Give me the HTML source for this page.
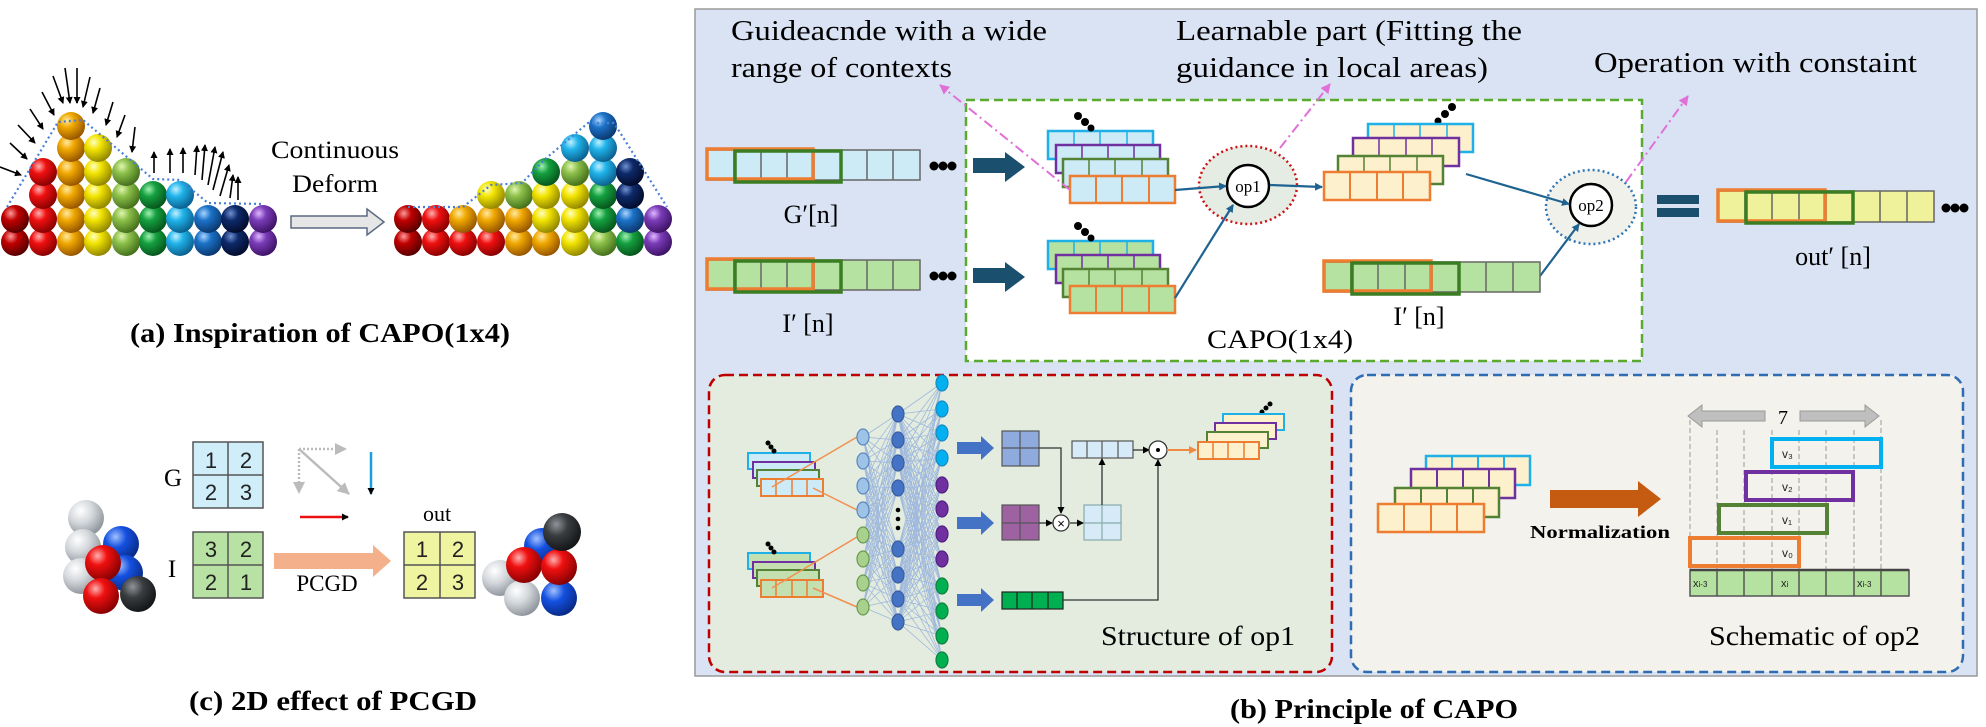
<!DOCTYPE html>
<html><head><meta charset="utf-8"><style>
html,body{margin:0;padding:0;background:#fff;}
svg{display:block;}
.s{font-family:"Liberation Serif",serif;}
.a{font-family:"Liberation Sans",sans-serif;}
</style></head><body>
<svg width="1986" height="727" viewBox="0 0 1986 727" xmlns="http://www.w3.org/2000/svg">
<defs>
<marker id="mt" markerWidth="8" markerHeight="8" refX="7" refY="4" orient="auto" markerUnits="userSpaceOnUse"><path d="M0 0L8 4L0 8z" fill="#1f6391"/></marker>
<marker id="mk" markerWidth="7" markerHeight="7" refX="6" refY="3.5" orient="auto" markerUnits="userSpaceOnUse"><path d="M0 0L7 3.5L0 7z" fill="#000"/></marker>
<marker id="mp" markerWidth="10" markerHeight="10" refX="9" refY="5" orient="auto" markerUnits="userSpaceOnUse"><path d="M0 0L10 5L0 10z" fill="#e070d8"/></marker>
<marker id="mg" markerWidth="12" markerHeight="12" refX="11" refY="6" orient="auto" markerUnits="userSpaceOnUse"><path d="M0 0L12 6L0 12z" fill="#bbb"/></marker>
<marker id="mo" markerWidth="8" markerHeight="8" refX="7" refY="4" orient="auto" markerUnits="userSpaceOnUse"><path d="M0 0L8 4L0 8z" fill="#f08a40"/></marker>
<radialGradient id="dr" cx=".35" cy=".3" r=".75"><stop offset="0" stop-color="#ff9a9a"/><stop offset=".35" stop-color="#c00000"/><stop offset="1" stop-color="#500000"/></radialGradient>
<radialGradient id="r" cx=".35" cy=".3" r=".75"><stop offset="0" stop-color="#ffb0b0"/><stop offset=".35" stop-color="#f01010"/><stop offset="1" stop-color="#800000"/></radialGradient>
<radialGradient id="o" cx=".35" cy=".3" r=".75"><stop offset="0" stop-color="#ffe9a0"/><stop offset=".35" stop-color="#f0a800"/><stop offset="1" stop-color="#905000"/></radialGradient>
<radialGradient id="y" cx=".35" cy=".3" r=".75"><stop offset="0" stop-color="#ffffc0"/><stop offset=".35" stop-color="#f2e400"/><stop offset="1" stop-color="#8a8000"/></radialGradient>
<radialGradient id="lg" cx=".35" cy=".3" r=".75"><stop offset="0" stop-color="#e0f5b0"/><stop offset=".35" stop-color="#8cc04a"/><stop offset="1" stop-color="#3f6a18"/></radialGradient>
<radialGradient id="g" cx=".35" cy=".3" r=".75"><stop offset="0" stop-color="#a0f0b0"/><stop offset=".35" stop-color="#15a040"/><stop offset="1" stop-color="#05501a"/></radialGradient>
<radialGradient id="c" cx=".35" cy=".3" r=".75"><stop offset="0" stop-color="#c0f0ff"/><stop offset=".35" stop-color="#20b4ea"/><stop offset="1" stop-color="#0a5a88"/></radialGradient>
<radialGradient id="b" cx=".35" cy=".3" r=".75"><stop offset="0" stop-color="#a8d4ff"/><stop offset=".35" stop-color="#1b72c8"/><stop offset="1" stop-color="#0a3468"/></radialGradient>
<radialGradient id="n" cx=".35" cy=".3" r=".75"><stop offset="0" stop-color="#7090d0"/><stop offset=".35" stop-color="#0e2a6a"/><stop offset="1" stop-color="#020a28"/></radialGradient>
<radialGradient id="p" cx=".35" cy=".3" r=".75"><stop offset="0" stop-color="#e0b8ff"/><stop offset=".35" stop-color="#7a3cb8"/><stop offset="1" stop-color="#3a1060"/></radialGradient>
<radialGradient id="w" cx=".35" cy=".3" r=".75"><stop offset="0" stop-color="#ffffff"/><stop offset=".45" stop-color="#d4d8dc"/><stop offset="1" stop-color="#8a9098"/></radialGradient>
<radialGradient id="k" cx=".35" cy=".3" r=".75"><stop offset="0" stop-color="#909498"/><stop offset=".4" stop-color="#3a3d40"/><stop offset="1" stop-color="#101214"/></radialGradient>
<radialGradient id="bl" cx=".35" cy=".3" r=".75"><stop offset="0" stop-color="#a0c0ff"/><stop offset=".4" stop-color="#1450e0"/><stop offset="1" stop-color="#082880"/></radialGradient>
</defs>

<!-- ============ (a) left ball piles ============ -->
<g>
<circle cx="15" cy="242" r="14" fill="url(#dr)"/><circle cx="15" cy="219" r="14" fill="url(#dr)"/>
<circle cx="43" cy="242" r="14" fill="url(#r)"/><circle cx="43" cy="219" r="14" fill="url(#r)"/><circle cx="43" cy="195" r="14" fill="url(#r)"/><circle cx="43" cy="172" r="14" fill="url(#r)"/>
<circle cx="71" cy="242" r="14" fill="url(#o)"/><circle cx="71" cy="219" r="14" fill="url(#o)"/><circle cx="71" cy="195" r="14" fill="url(#o)"/><circle cx="71" cy="172" r="14" fill="url(#o)"/><circle cx="71" cy="148" r="14" fill="url(#o)"/><circle cx="71" cy="126" r="14" fill="url(#o)"/>
<circle cx="98" cy="242" r="14" fill="url(#y)"/><circle cx="98" cy="219" r="14" fill="url(#y)"/><circle cx="98" cy="195" r="14" fill="url(#y)"/><circle cx="98" cy="172" r="14" fill="url(#y)"/><circle cx="98" cy="148" r="14" fill="url(#y)"/>
<circle cx="126" cy="242" r="14" fill="url(#lg)"/><circle cx="126" cy="219" r="14" fill="url(#lg)"/><circle cx="126" cy="195" r="14" fill="url(#lg)"/><circle cx="126" cy="172" r="14" fill="url(#lg)"/>
<circle cx="153" cy="242" r="14" fill="url(#g)"/><circle cx="153" cy="219" r="14" fill="url(#g)"/><circle cx="153" cy="195" r="14" fill="url(#g)"/>
<circle cx="180" cy="242" r="14" fill="url(#c)"/><circle cx="180" cy="219" r="14" fill="url(#c)"/><circle cx="180" cy="195" r="14" fill="url(#c)"/>
<circle cx="208" cy="242" r="14" fill="url(#b)"/><circle cx="208" cy="219" r="14" fill="url(#b)"/>
<circle cx="235" cy="242" r="14" fill="url(#n)"/><circle cx="235" cy="219" r="14" fill="url(#n)"/>
<circle cx="263" cy="242" r="14" fill="url(#p)"/><circle cx="263" cy="219" r="14" fill="url(#p)"/>
</g>
<polyline points="7,207 58,122 83,120 153,179 180,180 208,203 263,204" fill="none" stroke="#4a7fd8" stroke-width="2.2" stroke-dasharray="2 3"/>
<g stroke="#000" stroke-width="1.6" marker-end="url(#mk)">
<line x1="0" y1="167" x2="21" y2="175"/><line x1="10" y1="143" x2="27" y2="159"/><line x1="18" y1="125" x2="35" y2="143"/>
<line x1="30" y1="109" x2="43" y2="129"/><line x1="42" y1="92" x2="54" y2="115"/><line x1="53" y1="76" x2="63" y2="103"/>
<line x1="65" y1="68" x2="70" y2="103"/><line x1="77" y1="68" x2="77" y2="103"/><line x1="90" y1="77" x2="83" y2="107"/>
<line x1="100" y1="88" x2="93" y2="113"/><line x1="113" y1="102" x2="106" y2="125"/><line x1="125" y1="115" x2="117" y2="137"/>
<line x1="135" y1="127" x2="132" y2="152"/>
<line x1="154" y1="173" x2="154" y2="152"/><line x1="170" y1="173" x2="170" y2="149"/><line x1="183" y1="173" x2="183" y2="148"/>
<line x1="195" y1="175" x2="197" y2="146"/><line x1="202" y1="180" x2="205" y2="145"/><line x1="208" y1="185" x2="215" y2="147"/>
<line x1="213" y1="190" x2="223" y2="152"/><line x1="220" y1="196" x2="229" y2="165"/><line x1="230" y1="198" x2="233" y2="175"/>
<line x1="238" y1="200" x2="238" y2="177"/>
</g>
<text class="s" x="335" y="158" font-size="25" text-anchor="middle" textLength="128" lengthAdjust="spacingAndGlyphs">Continuous</text>
<text class="s" x="335" y="192" font-size="25" text-anchor="middle" textLength="86" lengthAdjust="spacingAndGlyphs">Deform</text>
<path d="M291 216H367V209L384 222L367 235V228H291Z" fill="#e6e6e6" stroke="#5a6a80" stroke-width="1.5"/>
<g>
<circle cx="408" cy="242" r="14" fill="url(#dr)"/><circle cx="408" cy="219" r="14" fill="url(#dr)"/>
<circle cx="436" cy="242" r="14" fill="url(#r)"/><circle cx="436" cy="219" r="14" fill="url(#r)"/>
<circle cx="463" cy="242" r="14" fill="url(#r)"/><circle cx="463" cy="219" r="14" fill="url(#o)"/>
<circle cx="491" cy="242" r="14" fill="url(#r)"/><circle cx="491" cy="219" r="14" fill="url(#o)"/><circle cx="491" cy="195" r="14" fill="url(#y)"/>
<circle cx="519" cy="242" r="14" fill="url(#o)"/><circle cx="519" cy="219" r="14" fill="url(#o)"/><circle cx="519" cy="195" r="14" fill="url(#lg)"/>
<circle cx="546" cy="242" r="14" fill="url(#o)"/><circle cx="546" cy="219" r="14" fill="url(#y)"/><circle cx="546" cy="195" r="14" fill="url(#y)"/><circle cx="546" cy="172" r="14" fill="url(#g)"/>
<circle cx="575" cy="242" r="14" fill="url(#y)"/><circle cx="575" cy="219" r="14" fill="url(#y)"/><circle cx="575" cy="195" r="14" fill="url(#y)"/><circle cx="575" cy="172" r="14" fill="url(#lg)"/><circle cx="575" cy="148" r="14" fill="url(#c)"/>
<circle cx="603" cy="242" r="14" fill="url(#lg)"/><circle cx="603" cy="219" r="14" fill="url(#g)"/><circle cx="603" cy="195" r="14" fill="url(#g)"/><circle cx="603" cy="172" r="14" fill="url(#c)"/><circle cx="603" cy="148" r="14" fill="url(#c)"/><circle cx="603" cy="126" r="14" fill="url(#b)"/>
<circle cx="630" cy="242" r="14" fill="url(#g)"/><circle cx="630" cy="219" r="14" fill="url(#b)"/><circle cx="630" cy="195" r="14" fill="url(#n)"/><circle cx="630" cy="172" r="14" fill="url(#n)"/>
<circle cx="658" cy="242" r="14" fill="url(#p)"/><circle cx="658" cy="219" r="14" fill="url(#p)"/>
</g>
<polyline points="408,207 463,207 491,185 522,183 544,160 588,123 614,123 667,207" fill="none" stroke="#4a7fd8" stroke-width="2.2" stroke-dasharray="2 3"/>
<text class="s" x="320" y="342" font-size="27" font-weight="bold" text-anchor="middle" textLength="380" lengthAdjust="spacingAndGlyphs">(a) Inspiration of CAPO(1x4)</text>

<!-- ============ (c) ============ -->
<text class="s" x="173" y="486" font-size="25" text-anchor="middle">G</text>
<text class="s" x="172" y="577" font-size="25" text-anchor="middle">I</text>
<g stroke="#555" stroke-width="1.5">
<rect x="193" y="442" width="70" height="66" fill="#cfeefa"/><path d="M228 442V508M193 475H263"/>
<rect x="193" y="532" width="70" height="66" fill="#b7e2a3"/><path d="M228 532V598M193 565H263"/>
<rect x="404" y="532" width="71" height="66" fill="#eef4a0"/><path d="M440 532V598M404 565H475"/>
</g>
<g class="a" font-size="22" fill="#222" text-anchor="middle">
<text x="211" y="468">1</text><text x="246" y="468">2</text><text x="211" y="500">2</text><text x="246" y="500">3</text>
<text x="211" y="557">3</text><text x="246" y="557">2</text><text x="211" y="590">2</text><text x="246" y="590">1</text>
<text x="422" y="557">1</text><text x="458" y="557">2</text><text x="422" y="590">2</text><text x="458" y="590">3</text>
</g>
<text class="s" x="437" y="521" font-size="22" text-anchor="middle">out</text>
<g stroke="#bbb" stroke-width="2.5">
<line x1="299" y1="449" x2="346" y2="449" stroke-dasharray="2 2" marker-end="url(#mg)"/>
<line x1="299" y1="449" x2="299" y2="493" stroke-dasharray="2 2" marker-end="url(#mg)"/>
<line x1="299" y1="449" x2="349" y2="494" marker-end="url(#mg)"/>
</g>
<line x1="371" y1="452" x2="371" y2="494" stroke="#1aa0e0" stroke-width="2.5" marker-end="url(#mk)"/>
<line x1="300" y1="517" x2="348" y2="517" stroke="#e81010" stroke-width="2.5" marker-end="url(#mk)"/>
<path d="M274 553H373V545L391 561L373 577V569H274Z" fill="#f4b08a"/>
<text class="s" x="327" y="591" font-size="23" text-anchor="middle">PCGD</text>
<g>
<circle cx="86" cy="518" r="18" fill="url(#w)"/><circle cx="121" cy="544" r="18" fill="url(#bl)"/><circle cx="83" cy="547" r="18" fill="url(#w)"/>
<circle cx="125" cy="573" r="18" fill="url(#bl)"/><circle cx="81" cy="576" r="18" fill="url(#w)"/><circle cx="103" cy="563" r="18" fill="url(#r)"/>
<circle cx="138" cy="594" r="18" fill="url(#k)"/><circle cx="101" cy="596" r="18" fill="url(#r)"/>
<circle cx="542" cy="546" r="18" fill="url(#bl)"/><circle cx="500" cy="578" r="18" fill="url(#w)"/><circle cx="559" cy="598" r="18" fill="url(#bl)"/>
<circle cx="522" cy="598" r="18" fill="url(#w)"/><circle cx="524" cy="565" r="18" fill="url(#r)"/><circle cx="559" cy="567" r="18" fill="url(#r)"/>
<circle cx="562" cy="532" r="19" fill="url(#k)"/>
</g>
<text class="s" x="333" y="710" font-size="27" font-weight="bold" text-anchor="middle" textLength="288" lengthAdjust="spacingAndGlyphs">(c) 2D effect of PCGD</text>

<!-- ============ (b) right panel ============ -->
<rect x="695" y="9" width="1282" height="667" fill="#dae3f3" stroke="#999" stroke-width="1.5"/>
<text class="s" x="731" y="40" font-size="28" textLength="316" lengthAdjust="spacingAndGlyphs">Guideacnde with a wide</text>
<text class="s" x="731" y="77" font-size="28" textLength="221" lengthAdjust="spacingAndGlyphs">range of contexts</text>
<text class="s" x="1176" y="40" font-size="28" textLength="346" lengthAdjust="spacingAndGlyphs">Learnable part (Fitting the</text>
<text class="s" x="1176" y="77" font-size="28" textLength="312" lengthAdjust="spacingAndGlyphs">guidance in local areas)</text>
<text class="s" x="1594" y="72" font-size="28" textLength="323" lengthAdjust="spacingAndGlyphs">Operation with constaint</text>

<rect x="966" y="100" width="676" height="261" fill="#fff" stroke="#5aaa30" stroke-width="2.5" stroke-dasharray="9 5"/>

<!-- G' strip -->
<g stroke-width="1.5">
<rect x="707" y="150" width="213" height="30" fill="#cdeaf7" stroke="#666"/>
<path d="M734 150v30M761 150v30M787 150v30M814 150v30M841 150v30M867 150v30M893 150v30" stroke="#666"/>
<rect x="707" y="149" width="106" height="30" fill="none" stroke="#ed7d31" stroke-width="3.5"/>
<rect x="735" y="151" width="106" height="31" fill="none" stroke="#3a7d22" stroke-width="3.5"/>
<rect x="707" y="260" width="213" height="30" fill="#b5e2a0" stroke="#666"/>
<path d="M734 260v30M761 260v30M787 260v30M814 260v30M841 260v30M867 260v30M893 260v30" stroke="#666"/>
<rect x="707" y="259" width="106" height="30" fill="none" stroke="#ed7d31" stroke-width="3.5"/>
<rect x="735" y="261" width="106" height="31" fill="none" stroke="#3a7d22" stroke-width="3.5"/>
</g>
<g fill="#000"><circle cx="934" cy="166" r="4.5"/><circle cx="943" cy="166" r="4.5"/><circle cx="952" cy="166" r="4.5"/>
<circle cx="934" cy="276" r="4.5"/><circle cx="943" cy="276" r="4.5"/><circle cx="952" cy="276" r="4.5"/>
<circle cx="1946" cy="208" r="4.5"/><circle cx="1955" cy="208" r="4.5"/><circle cx="1964" cy="208" r="4.5"/></g>
<text class="s" x="811" y="223" font-size="26" text-anchor="middle">G′[n]</text>
<text class="s" x="808" y="332" font-size="26" text-anchor="middle">I′ [n]</text>
<path d="M973 158H1005V152L1025 167L1005 182V173H973Z" fill="#1b4f6e"/>
<path d="M973 268H1005V262L1025 277L1005 292V283H973Z" fill="#1b4f6e"/>

<!-- G stack -->
<g stroke-width="2.5" fill="#cdeaf7">
<rect x="1048" y="131" width="105" height="28" stroke="#1fb0e8"/><path d="M1074 131v28M1100 131v28M1127 131v28" stroke="#1fb0e8" stroke-width="1.5"/>
<rect x="1056" y="145" width="104" height="28" stroke="#7030a0"/><path d="M1082 145v28M1108 145v28M1134 145v28" stroke="#7030a0" stroke-width="1.5"/>
<rect x="1063" y="159" width="105" height="28" stroke="#548235"/><path d="M1089 159v28M1115 159v28M1142 159v28" stroke="#548235" stroke-width="1.5"/>
<rect x="1070" y="176" width="105" height="27" stroke="#ed7d31"/><path d="M1096 176v27M1122 176v27M1149 176v27" stroke="#ed7d31" stroke-width="2"/>
</g>
<g stroke-width="2.5" fill="#b5e2a0">
<rect x="1048" y="241" width="105" height="28" stroke="#1fb0e8"/><path d="M1074 241v28M1100 241v28M1127 241v28" stroke="#1fb0e8" stroke-width="1.5"/>
<rect x="1056" y="255" width="104" height="28" stroke="#7030a0"/><path d="M1082 255v28M1108 255v28M1134 255v28" stroke="#7030a0" stroke-width="1.5"/>
<rect x="1063" y="269" width="105" height="28" stroke="#548235"/><path d="M1089 269v28M1115 269v28M1142 269v28" stroke="#548235" stroke-width="1.5"/>
<rect x="1070" y="286" width="105" height="27" stroke="#ed7d31"/><path d="M1096 286v27M1122 286v27M1149 286v27" stroke="#ed7d31" stroke-width="2"/>
</g>
<g fill="#000"><circle cx="1078" cy="116" r="4"/><circle cx="1085" cy="122" r="4"/><circle cx="1091" cy="128" r="3.5"/>
<circle cx="1078" cy="226" r="4"/><circle cx="1085" cy="232" r="4"/><circle cx="1091" cy="238" r="3.5"/>
<circle cx="1438" cy="121" r="3.5"/><circle cx="1445" cy="114" r="4"/><circle cx="1452" cy="107" r="4"/></g>

<!-- yellow stack -->
<g stroke-width="2.5" fill="#fdf0cc">
<rect x="1368" y="124" width="105" height="28" stroke="#1fb0e8"/><path d="M1394 124v28M1420 124v28M1447 124v28" stroke="#1fb0e8" stroke-width="1.5"/>
<rect x="1353" y="138" width="106" height="28" stroke="#7030a0"/><path d="M1379 138v28M1406 138v28M1432 138v28" stroke="#7030a0" stroke-width="1.5"/>
<rect x="1338" y="156" width="105" height="28" stroke="#548235"/><path d="M1364 156v28M1390 156v28M1417 156v28" stroke="#548235" stroke-width="1.5"/>
<rect x="1324" y="172" width="106" height="28" stroke="#ed7d31"/><path d="M1350 172v28M1377 172v28M1403 172v28" stroke="#ed7d31" stroke-width="2"/>
</g>

<!-- op1 / op2 -->
<ellipse cx="1248" cy="185" rx="49" ry="39" fill="#e4ece4" stroke="#d01010" stroke-width="2.5" stroke-dasharray="2 3"/>
<circle cx="1248" cy="186" r="21" fill="#fff" stroke="#000" stroke-width="2.5"/>
<text class="s" x="1248" y="192" font-size="17" text-anchor="middle">op1</text>
<ellipse cx="1591" cy="207" rx="45" ry="37" fill="#f1f1ec" stroke="#2e75b6" stroke-width="2.5" stroke-dasharray="2 3"/>
<circle cx="1591" cy="205" r="21" fill="#fff" stroke="#000" stroke-width="2.5"/>
<text class="s" x="1591" y="211" font-size="17" text-anchor="middle">op2</text>
<g stroke="#1f6391" stroke-width="2.2" fill="none" marker-end="url(#mt)">
<line x1="1175" y1="190" x2="1226" y2="186"/>
<line x1="1175" y1="298" x2="1233" y2="205"/>
<line x1="1270" y1="185" x2="1322" y2="187"/>
<line x1="1466" y1="174" x2="1569" y2="204"/>
<line x1="1540" y1="276" x2="1579" y2="224"/>
</g>
<!-- inner I' strip -->
<g stroke-width="1.5">
<rect x="1324" y="262" width="216" height="30" fill="#b5e2a0" stroke="#666"/>
<path d="M1351 262v30M1378 262v30M1405 262v30M1432 262v30M1459 262v30M1486 262v30M1513 262v30" stroke="#666"/>
<rect x="1324" y="261" width="107" height="30" fill="none" stroke="#ed7d31" stroke-width="3.5"/>
<rect x="1352" y="263" width="107" height="31" fill="none" stroke="#3a7d22" stroke-width="3.5"/>
</g>
<text class="s" x="1419" y="325" font-size="26" text-anchor="middle">I′ [n]</text>
<text class="s" x="1280" y="348" font-size="26" text-anchor="middle" textLength="146" lengthAdjust="spacingAndGlyphs">CAPO(1x4)</text>
<!-- = and out -->
<rect x="1657" y="195" width="42" height="9" fill="#1b4f6e"/><rect x="1657" y="208" width="42" height="9" fill="#1b4f6e"/>
<g stroke-width="1.5">
<rect x="1718" y="191" width="216" height="31" fill="#eff29a" stroke="#666"/>
<path d="M1745 191v31M1772 191v31M1799 191v31M1826 191v31M1853 191v31M1880 191v31M1907 191v31" stroke="#666"/>
<rect x="1718" y="190" width="107" height="31" fill="none" stroke="#ed7d31" stroke-width="3.5"/>
<rect x="1746" y="192" width="107" height="31" fill="none" stroke="#3a7d22" stroke-width="3.5"/>
</g>
<text class="s" x="1833" y="265" font-size="26" text-anchor="middle">out′ [n]</text>

<!-- pink dash-dot -->
<g stroke="#e070d8" stroke-width="2" stroke-dasharray="10 4 2 4" fill="none" marker-end="url(#mp)">
<line x1="1070" y1="190" x2="940" y2="85"/>
<line x1="1280" y1="148" x2="1330" y2="84"/>
<line x1="1626" y1="182" x2="1688" y2="96"/>
</g>

<!-- bottom panels -->
<rect x="709" y="375" width="623" height="297" rx="16" fill="#e3ecdf" stroke="#c00000" stroke-width="2.5" stroke-dasharray="9 5"/>
<rect x="1351" y="375" width="612" height="297" rx="16" fill="#f3f2ec" stroke="#2e6db4" stroke-width="2.5" stroke-dasharray="9 5"/>

<g id="mesh" stroke="#6a8fd8" stroke-width="0.8" opacity="0.55"></g>

<!-- small stacks op1 -->
<g stroke-width="2" fill="#cdeaf7">
<rect x="748" y="453" width="62" height="16" stroke="#1fb0e8"/><rect x="753" y="462" width="62" height="16" stroke="#7030a0"/>
<rect x="757" y="470" width="62" height="16" stroke="#548235"/><rect x="761" y="479" width="62" height="17" stroke="#ed7d31"/>
<path d="M776 479v17M792 479v17M807 479v17" stroke="#ed7d31" stroke-width="1.5"/>
</g>
<g stroke-width="2" fill="#c5e0b0">
<rect x="748" y="553" width="62" height="16" stroke="#1fb0e8"/><rect x="753" y="562" width="62" height="16" stroke="#7030a0"/>
<rect x="757" y="570" width="62" height="16" stroke="#548235"/><rect x="761" y="580" width="62" height="17" stroke="#ed7d31"/>
<path d="M776 580v17M792 580v17M807 580v17" stroke="#ed7d31" stroke-width="1.5"/>
</g>
<g fill="#000"><circle cx="768" cy="443" r="2.5"/><circle cx="771" cy="447" r="2.5"/><circle cx="774" cy="451" r="2.5"/>
<circle cx="768" cy="544" r="2.5"/><circle cx="771" cy="548" r="2.5"/><circle cx="774" cy="552" r="2.5"/>
<circle cx="1262" cy="412" r="2.5"/><circle cx="1266" cy="408" r="2.5"/><circle cx="1270" cy="404" r="2.5"/></g>
<g stroke="#f09050" stroke-width="1.5">
<line x1="772" y1="487" x2="857" y2="437"/><line x1="813" y1="488" x2="857" y2="510"/>
<line x1="772" y1="588" x2="857" y2="537"/><line x1="813" y1="588" x2="857" y2="607"/>
</g>
<!-- nodes -->
<g stroke-width="1.2">
<g fill="#9dc3e6" stroke="#5b86c0"><ellipse cx="863" cy="437" rx="6" ry="8"/><ellipse cx="863" cy="461" rx="6" ry="8"/><ellipse cx="863" cy="486" rx="6" ry="8"/><ellipse cx="863" cy="510" rx="6" ry="8"/></g>
<g fill="#a9d18e" stroke="#6a9a50"><ellipse cx="863" cy="535" rx="6" ry="8"/><ellipse cx="863" cy="559" rx="6" ry="8"/><ellipse cx="863" cy="583" rx="6" ry="8"/><ellipse cx="863" cy="607" rx="6" ry="8"/></g>
<g fill="#4472c4" stroke="#3a5ea0"><ellipse cx="898" cy="414" rx="6" ry="8"/><ellipse cx="898" cy="440" rx="6" ry="8"/><ellipse cx="898" cy="463" rx="6" ry="8"/><ellipse cx="898" cy="488" rx="6" ry="8"/>
<ellipse cx="898" cy="549" rx="6" ry="8"/><ellipse cx="898" cy="575" rx="6" ry="8"/><ellipse cx="898" cy="599" rx="6" ry="8"/><ellipse cx="898" cy="622" rx="6" ry="8"/></g>
<g fill="#00b0f0" stroke="#1a8ac0"><ellipse cx="942" cy="383" rx="6" ry="8"/><ellipse cx="942" cy="409" rx="6" ry="8"/><ellipse cx="942" cy="433" rx="6" ry="8"/><ellipse cx="942" cy="458" rx="6" ry="8"/></g>
<g fill="#7030a0" stroke="#502080"><ellipse cx="942" cy="485" rx="6" ry="8"/><ellipse cx="942" cy="509" rx="6" ry="8"/><ellipse cx="942" cy="534" rx="6" ry="8"/><ellipse cx="942" cy="559" rx="6" ry="8"/></g>
<g fill="#00b050" stroke="#108040"><ellipse cx="942" cy="586" rx="6" ry="8"/><ellipse cx="942" cy="611" rx="6" ry="8"/><ellipse cx="942" cy="636" rx="6" ry="8"/><ellipse cx="942" cy="660" rx="6" ry="8"/></g>
</g>
<g fill="#000"><circle cx="898" cy="510" r="2.3"/><circle cx="898" cy="519" r="2.3"/><circle cx="898" cy="528" r="2.3"/></g>
<g fill="#4472c4">
<path d="M957 442H981V436L994 448L981 460V454H957Z"/>
<path d="M957 517H981V511L994 523L981 535V529H957Z"/>
<path d="M957 594H981V588L994 600L981 612V606H957Z"/>
</g>
<g stroke="#555" stroke-width="1.2">
<rect x="1002" y="431" width="37" height="35" fill="#8faadc"/><path d="M1020 431v35M1002 448h37"/>
<rect x="1002" y="505" width="37" height="35" fill="#9e62a2"/><path d="M1020 505v35M1002 523h37"/>
<rect x="1002" y="592" width="61" height="17" fill="#00b050" stroke="#222"/><path d="M1017 592v17M1032 592v17M1048 592v17" stroke="#222"/>
<rect x="1072" y="441" width="61" height="17" fill="#d6ebf7"/><path d="M1087 441v17M1102 441v17M1118 441v17"/>
<rect x="1084" y="505" width="37" height="35" fill="#d6ebf7" stroke="#8aa"/><path d="M1102 505v35M1084 523h37" stroke="#8aa"/>
</g>
<g stroke="#333" stroke-width="1.3" fill="none">
<path d="M1039 448H1061V513" marker-end="url(#mk)"/>
<line x1="1039" y1="523" x2="1052" y2="523" marker-end="url(#mk)"/>
<line x1="1070" y1="523" x2="1083" y2="523" marker-end="url(#mk)"/>
<line x1="1102" y1="505" x2="1102" y2="459" marker-end="url(#mk)"/>
<line x1="1133" y1="450" x2="1149" y2="450" marker-end="url(#mk)"/>
<path d="M1063 600H1158V460" marker-end="url(#mk)"/>
</g>
<circle cx="1061" cy="523" r="8" fill="#fff" stroke="#333" stroke-width="1.3"/>
<text class="a" x="1061" y="528" font-size="13" text-anchor="middle">×</text>
<circle cx="1158" cy="450" r="9" fill="#fff" stroke="#333" stroke-width="1.3"/>
<circle cx="1158" cy="450" r="2" fill="#000"/>
<line x1="1167" y1="450" x2="1196" y2="450" stroke="#f08a40" stroke-width="2" marker-end="url(#mo)"/>
<g stroke-width="2" fill="#fdf0cc">
<rect x="1223" y="414" width="61" height="16" stroke="#1fb0e8"/><rect x="1215" y="423" width="61" height="16" stroke="#7030a0"/>
<rect x="1207" y="432" width="61" height="16" stroke="#548235"/><rect x="1198" y="442" width="61" height="17" stroke="#ed7d31"/>
<path d="M1213 442v17M1228 442v17M1244 442v17" stroke="#ed7d31" stroke-width="1.5"/>
</g>
<text class="s" x="1101" y="645" font-size="27" textLength="194" lengthAdjust="spacingAndGlyphs">Structure of op1</text>

<!-- op2 schematic -->
<g stroke-width="2.5" fill="#fdf0cc">
<rect x="1426" y="456" width="104" height="29" stroke="#1fb0e8"/><path d="M1452 456v29M1478 456v29M1504 456v29" stroke="#1fb0e8" stroke-width="2"/>
<rect x="1411" y="469" width="104" height="29" stroke="#7030a0"/><path d="M1437 469v29M1463 469v29M1489 469v29" stroke="#7030a0" stroke-width="2"/>
<rect x="1395" y="488" width="104" height="29" stroke="#548235"/><path d="M1421 488v29M1447 488v29M1473 488v29" stroke="#548235" stroke-width="2"/>
<rect x="1378" y="504" width="106" height="28" stroke="#ed7d31"/><path d="M1404 504v28M1431 504v28M1457 504v28" stroke="#ed7d31" stroke-width="2"/>
</g>
<path d="M1550 490H1638V481L1661 499L1638 517V508H1550Z" fill="#c55a11"/>
<text class="s" x="1530" y="538" font-size="18" font-weight="bold" textLength="140" lengthAdjust="spacingAndGlyphs">Normalization</text>
<g stroke="#999" stroke-width="1" stroke-dasharray="5 3">
<path d="M1690 420V569M1717 430V569M1744 430V569M1772 430V569M1799 430V569M1826 430V569M1854 430V569M1881 420V569"/>
</g>
<path d="M1765 411H1702V405L1688 416L1702 427V421H1765Z" fill="#bfbfbf" stroke="#999"/>
<path d="M1800 411H1865V405L1879 416L1865 427V421H1800Z" fill="#bfbfbf" stroke="#999"/>
<text class="s" x="1783" y="424" font-size="20" text-anchor="middle">7</text>
<g fill="none" stroke-width="4">
<rect x="1772" y="439" width="109" height="28" stroke="#00b0f0"/>
<rect x="1746" y="472" width="107" height="28" stroke="#7030a0"/>
<rect x="1719" y="505" width="108" height="28" stroke="#548235"/>
<rect x="1690" y="538" width="109" height="28" stroke="#ed7d31"/>
</g>
<g class="a" font-size="12" fill="#222">
<text x="1782" y="458">v₃</text><text x="1782" y="491">v₂</text><text x="1782" y="524">v₁</text><text x="1782" y="557">v₀</text>
</g>
<rect x="1690" y="570" width="219" height="26" fill="#b5e2a0" stroke="#555" stroke-width="1.5"/>
<line x1="1690" y1="570" x2="1909" y2="570" stroke="#444" stroke-width="2.5"/>
<path d="M1717 570v26M1744 570v26M1772 570v26M1799 570v26M1826 570v26M1854 570v26M1881 570v26" stroke="#555" stroke-width="1.5"/>
<g class="a" font-size="11" fill="#222">
<text x="1693" y="587">x<tspan font-size="8">i-3</tspan></text>
<text x="1781" y="587">x<tspan font-size="8">i</tspan></text>
<text x="1857" y="587">x<tspan font-size="8">i-3</tspan></text>
</g>
<text class="s" x="1709" y="645" font-size="27" textLength="211" lengthAdjust="spacingAndGlyphs">Schematic of op2</text>

<text class="s" x="1374" y="718" font-size="27" font-weight="bold" text-anchor="middle" textLength="288" lengthAdjust="spacingAndGlyphs">(b) Principle of CAPO</text>
</svg>
<script>
(function(){
var g=document.getElementById('mesh'),ns='http://www.w3.org/2000/svg';
var inY=[437,461,486,510,535,559,583,607],hY=[414,440,463,488,549,575,599,622],oY=[383,409,433,458,485,509,534,559,586,611,636,660];
var d='';
inY.forEach(function(a){hY.forEach(function(b){d+='M863 '+a+'L898 '+b;});});
hY.forEach(function(a){oY.forEach(function(b){d+='M898 '+a+'L942 '+b;});});
var p=document.createElementNS(ns,'path');p.setAttribute('d',d);p.setAttribute('fill','none');g.appendChild(p);
})();
</script>
</body></html>
